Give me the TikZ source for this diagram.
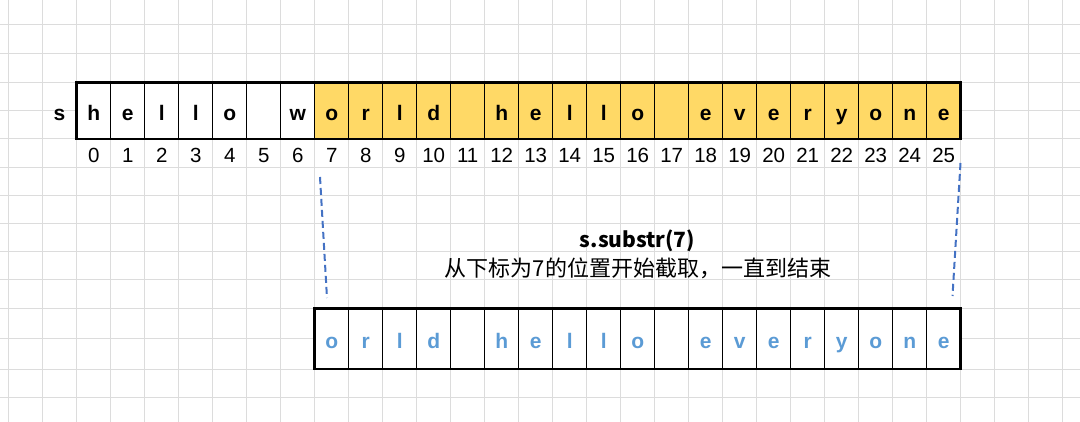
\documentclass[tikz,border=0pt]{standalone}
\usepackage{fontspec}
\setmainfont{Liberation Sans}
\newfontfamily\cjk{Noto Sans CJK SC}
\definecolor{gridc}{HTML}{DCDCDC}
\definecolor{yel}{HTML}{FFD966}
\definecolor{lblue}{HTML}{5B9BD5}
\definecolor{dblue}{HTML}{4472C4}
\begin{document}
\begin{tikzpicture}[x=1pt,y=-1pt,
  gridline/.style={draw=gridc,line width=1pt},
  cell/.style={draw=black,line width=1.3pt,minimum width=34pt,minimum height=56.7pt,inner sep=0pt,outer sep=0pt,anchor=north west,text height=20.5pt,text depth=0pt,font=\fontsize{21}{21}\selectfont\bfseries},
  bcell/.style={cell,minimum height=60.7pt,text height=19.6pt,text=lblue},
  idx/.style={anchor=base,inner sep=0pt,font=\fontsize{20.5}{20.5}\selectfont},
  frame/.style={draw=black,line width=2.6pt},
  dashline/.style={draw=dblue,line width=2pt,dash pattern=on 7pt off 4pt},
  title/.style={inner sep=0pt,font=\cjk\fontsize{21}{21}\selectfont\bfseries},
  sub/.style={inner sep=0pt,font=\cjk\fontsize{22}{22}\selectfont}]
\useasboundingbox[fill=white] (0,0) rectangle (1080,422);
% grid
\foreach \k in {0,...,31} \draw[gridline] ({8.7+34*\k},0) -- ({8.7+34*\k},422);
\foreach \yy in {25,53.3,82.3,110.5,139,167.3,195.3,223.3,251.7,280,308.3,338.6,369,397.3}
  \draw[gridline] (0,\yy) -- (1080,\yy);
% label s
\node[anchor=base,inner sep=0pt,font=\fontsize{21}{21}\selectfont\bfseries] (slabel) at (59.5,120.8) {s};
% top row
\foreach \ch [count=\i from 0] in {h,e,l,l,o,{},w,o,r,l,d,{},h,e,l,l,o,{},e,v,e,r,y,o,n,e}{
  \ifnum\i>6 \def\fc{yel}\else\def\fc{white}\fi
  \node[cell,fill=\fc] (t\i) at ({76.7+34*\i},82.3) {\ch};
  \node[idx] (n\i) at ({93.7+34*\i},162.7) {\i};
}
\draw[frame] (t0.north west) rectangle (t25.south east);
% bottom row
\foreach \ch [count=\j from 0] in {o,r,l,d,{},h,e,l,l,o,{},e,v,e,r,y,o,n,e}{
  \node[bcell,fill=white] (b\j) at ({314.7+34*\j},308.3) {\ch};
}
\draw[frame] (b0.north west) rectangle (b18.south east);
% texts
\node[title] (ttl) at (637.5,240.5) {s.substr(7)};
\node[sub] (desc) at (638,268.3) {从下标为7的位置开始截取，一直到结束};
% dashed connectors
\coordinate (la) at (320,177);
\coordinate (lb) at (327,298);
\coordinate (ra) at (960.5,163);
\coordinate (rb) at (952.5,296);
\draw[dashline] (la) -- (lb);
\draw[dashline] (ra) -- (rb);
\end{tikzpicture}
\end{document}
